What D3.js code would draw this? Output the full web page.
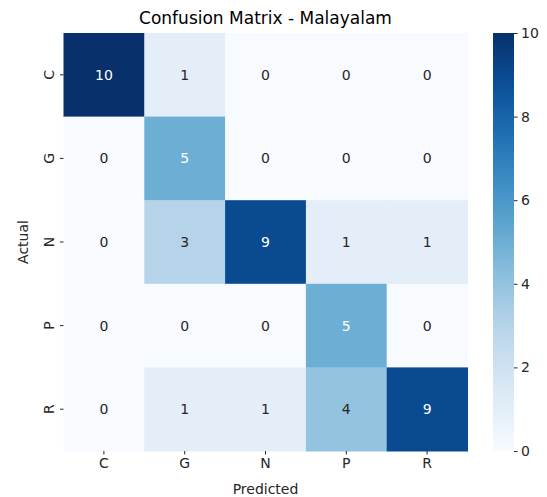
<!DOCTYPE html>
<html>
<head>
<meta charset="utf-8">
<script src="https://cdn.jsdelivr.net/npm/d3@7"></script>
<style>
  body { margin: 0; background: #fff; }
  svg { font-family: "DejaVu Sans", sans-serif; }
</style>
</head>
<body>
<svg id="chart" width="547" height="497"></svg>
<script>
// Confusion matrix for Malayalam classifier
const labels = ["C", "G", "N", "P", "R"];
const matrix = [
  [10, 1, 0, 0, 0],
  [0, 5, 0, 0, 0],
  [0, 3, 9, 1, 1],
  [0, 0, 0, 5, 0],
  [0, 1, 1, 4, 9]
];
const colorTicks = [0, 2, 4, 6, 8, 10];

const svg = d3.select("#chart");
const plotLeft = 63.5, plotRight = 467.5, plotTop = 33, plotBottom = 451;
const fs = 14;

const x = d3.scaleBand().domain(labels).range([plotLeft, plotRight]);
const y = d3.scaleBand().domain(labels).range([plotTop, plotBottom]);
const color = d3.scaleSequential(d3.interpolateBlues).domain([0, 10]);

const cells = [];
matrix.forEach((row, i) => row.forEach((v, j) => cells.push({ r: labels[i], c: labels[j], v })));

svg.append("g").selectAll("rect").data(cells).join("rect")
  .attr("x", d => x(d.c)).attr("y", d => y(d.r))
  .attr("width", x.bandwidth() + 0.5).attr("height", y.bandwidth() + 0.5)
  .attr("fill", d => color(d.v));

function textColor(v) {
  const c = d3.rgb(color(v));
  const lin = u => { u /= 255; return u <= 0.03928 ? u / 12.92 : Math.pow((u + 0.055) / 1.055, 2.4); };
  const L = 0.2126 * lin(c.r) + 0.7152 * lin(c.g) + 0.0722 * lin(c.b);
  return L > 0.408 ? "#262626" : "#ffffff";
}

svg.append("g").selectAll("text").data(cells).join("text")
  .attr("x", d => x(d.c) + x.bandwidth() / 2)
  .attr("y", d => y(d.r) + y.bandwidth() / 2)
  .attr("text-anchor", "middle").attr("dominant-baseline", "central")
  .attr("font-size", fs).attr("fill", d => textColor(d.v))
  .text(d => d.v);

// Axes
const xAxis = svg.append("g").attr("transform", `translate(0,${plotBottom})`)
  .call(d3.axisBottom(x).tickSize(3.5).tickPadding(3.5));
xAxis.select(".domain").remove();
xAxis.selectAll("text").attr("font-size", fs).attr("fill", "#262626").attr("font-family", "DejaVu Sans");
xAxis.selectAll("line").attr("stroke", "#262626");

const yAxis = svg.append("g").attr("transform", `translate(${plotLeft},0)`)
  .call(d3.axisLeft(y).tickSize(3.5).tickPadding(3.5));
yAxis.select(".domain").remove();
yAxis.selectAll("line").attr("stroke", "#262626");
yAxis.selectAll("text")
  .attr("font-size", fs).attr("fill", "#262626").attr("font-family", "DejaVu Sans")
  .attr("text-anchor", "middle").attr("dy", null)
  .attr("transform", "translate(-15,0) rotate(-90)")
  .attr("x", 0).attr("y", 0).attr("dominant-baseline", "central");

// Titles
svg.append("text").attr("x", (plotLeft + plotRight) / 2).attr("y", 24)
  .attr("text-anchor", "middle").attr("font-size", 17).attr("fill", "#000")
  .text("Confusion Matrix - Malayalam");
svg.append("text").attr("x", (plotLeft + plotRight) / 2).attr("y", 494)
  .attr("text-anchor", "middle").attr("font-size", fs).attr("fill", "#262626")
  .text("Predicted");
svg.append("text").attr("transform", `translate(28,${(plotTop + plotBottom) / 2}) rotate(-90)`)
  .attr("text-anchor", "middle").attr("font-size", fs).attr("fill", "#262626")
  .text("Actual");

// Colorbar
const cbX = 493, cbW = 21;
const defs = svg.append("defs");
const grad = defs.append("linearGradient").attr("id", "cbgrad")
  .attr("x1", 0).attr("y1", 1).attr("x2", 0).attr("y2", 0);
d3.range(0, 1.0001, 0.05).forEach(t => {
  grad.append("stop").attr("offset", t).attr("stop-color", color(t * 10));
});
svg.append("rect").attr("x", cbX).attr("y", plotTop).attr("width", cbW).attr("height", plotBottom - plotTop)
  .attr("fill", "url(#cbgrad)");
const cbScale = d3.scaleLinear().domain([0, 10]).range([plotBottom, plotTop]);
const cbAxis = svg.append("g").attr("transform", `translate(${cbX + cbW},0)`)
  .call(d3.axisRight(cbScale).tickValues(colorTicks).tickSize(3.5).tickPadding(3.5));
cbAxis.select(".domain").remove();
cbAxis.selectAll("line").attr("stroke", "#262626");
cbAxis.selectAll("text").attr("font-size", fs).attr("fill", "#262626").attr("font-family", "DejaVu Sans");
</script>
</body>
</html>
